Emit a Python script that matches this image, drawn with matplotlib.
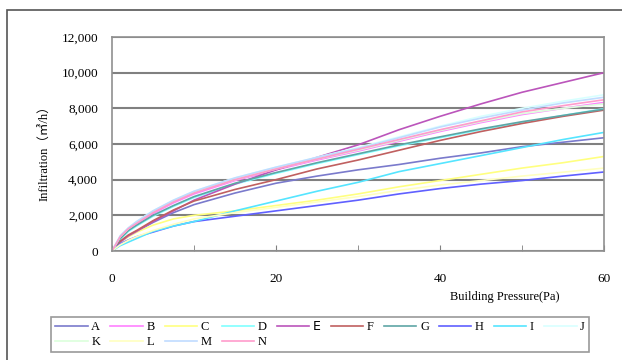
import matplotlib.pyplot as plt
from matplotlib.patches import Rectangle
from matplotlib.ticker import FuncFormatter

# building pressure (Pa) at which values were read
pressure = [0, 1, 2, 3, 5, 7.5, 10, 15, 20, 25, 30, 35, 40, 45, 50, 55, 60]

# infiltration (m3/h) per case
A = [0, 500, 850, 1100, 1600, 2150, 2600, 3250, 3800, 4200, 4550, 4850, 5200, 5500, 5850, 6100, 6350]
B = [0, 750, 1200, 1500, 2100, 2700, 3200, 3950, 4550, 5100, 5600, 6150, 6700, 7200, 7650, 8000, 8330]
C = [0, 500, 800, 1050, 1450, 1800, 2000, 2250, 2550, 2850, 3200, 3600, 3950, 4300, 4650, 4950, 5300]
D = [0, 650, 1100, 1400, 1950, 2500, 3000, 3750, 4350, 4900, 5400, 5900, 6350, 6800, 7200, 7600, 7980]
E = [0, 500, 850, 1100, 1650, 2250, 2850, 3750, 4550, 5250, 5950, 6800, 7550, 8250, 8900, 9450, 10000]
F = [0, 550, 900, 1150, 1700, 2300, 2800, 3450, 4000, 4600, 5100, 5650, 6200, 6700, 7150, 7550, 7900]
G = [0, 700, 1150, 1450, 2000, 2550, 3050, 3800, 4400, 4950, 5450, 5950, 6400, 6850, 7250, 7600, 7950]
H = [0, 400, 620, 800, 1060, 1400, 1650, 1950, 2250, 2550, 2850, 3200, 3500, 3750, 3950, 4200, 4430]
I = [0, 300, 500, 700, 1100, 1400, 1650, 2250, 2800, 3350, 3850, 4450, 4900, 5350, 5800, 6250, 6650]
J = [0, 850, 1300, 1650, 2250, 2850, 3350, 4100, 4700, 5250, 5800, 6400, 7000, 7550, 8000, 8400, 8760]
K = [0, 800, 1250, 1600, 2200, 2800, 3300, 4000, 4600, 5150, 5650, 6200, 6750, 7250, 7700, 8000, 8250]
L = [0, 350, 600, 800, 1150, 1500, 1800, 2150, 2450, 2750, 3050, 3400, 3700, 3950, 4200, 4420, 4650]
M = [0, 850, 1300, 1650, 2250, 2850, 3350, 4100, 4700, 5250, 5750, 6350, 6950, 7450, 7900, 8300, 8620]
N = [0, 800, 1250, 1550, 2150, 2750, 3250, 4000, 4600, 5150, 5700, 6250, 6800, 7300, 7800, 8150, 8480]

names = ['A', 'B', 'C', 'D', 'E', 'F', 'G', 'H', 'I', 'J', 'K', 'L', 'M', 'N']
series = [A, B, C, D, E, F, G, H, I, J, K, L, M, N]
colors = ['#7a7acc', '#ff80ff', '#ffff80', '#80ffff', '#bb55bb', '#c06060', '#5fa5a5',
          '#6060ff', '#55e5ff', '#d8ffff', '#dcffdc', '#ffffc0', '#c0dcff', '#ff9ccc']

serif = ['Liberation Serif', 'Noto Sans CJK JP']

fig = plt.figure(figsize=(6.22, 3.6), dpi=100)
fig.patches.append(Rectangle((7 / 622, -0.1), 1.2, 1 - 10 / 360 + 0.1, transform=fig.transFigure,
                             fill=False, edgecolor='#555555', linewidth=1.2))

ax = fig.add_axes([112 / 622, 1 - 251 / 360, 492 / 622, 214 / 360])
lines = []
for name, vals, c in zip(names, series, colors):
    ln, = ax.plot(pressure, vals, color=c, linewidth=1.2, label=name)
    lines.append(ln)

ax.set_xlim(0, 60)
ax.set_ylim(0, 12000)
ax.set_xticks([0, 20, 40, 60])
ax.set_xticks([10, 30, 50], minor=True)
ax.set_yticks(range(0, 12001, 2000))
ax.yaxis.set_major_formatter(FuncFormatter(lambda v, p: f'{int(v):,}'))
ax.grid(axis='y', color='#808080', linewidth=1.5)
ax.set_axisbelow(True)
ax.tick_params(axis='x', which='both', direction='in', length=4, color='#808080', pad=16)
ax.tick_params(axis='y', length=0, pad=10)
for lab in ax.get_xticklabels() + ax.get_yticklabels():
    lab.set_fontfamily(serif)
    lab.set_fontsize(9.5)
for s in ax.spines.values():
    s.set_color('#909090')
    s.set_linewidth(1.2)

fig.text(505 / 622, 1 - 297 / 360, 'Building Pressure(Pa)', ha='center', va='center',
         family=serif, fontsize=9)
fig.text(45 / 622, 1 - 150 / 360, 'Infiltration（㎥/h）', ha='center', va='center',
         rotation=90, family=serif, fontsize=9)

# legend fills column by column, so interleave to get rows A..J and K..N
order = [0, 10, 1, 11, 2, 12, 3, 13, 4, 5, 6, 7, 8, 9]
leg = fig.legend([lines[i] for i in order], [names[i] for i in order],
                 loc='lower left', bbox_to_anchor=(45 / 622, 2 / 360, 550 / 622, 44 / 360),
                 mode='expand', ncol=10, prop={'family': serif, 'size': 9},
                 handlelength=2.6, handletextpad=0.3, borderpad=0.3, labelspacing=0.2,
                 frameon=True, fancybox=False, edgecolor='#808080')
leg.get_frame().set_linewidth(1.2)
for t in leg.get_texts():
    if t.get_text() == 'E':
        t.set_fontfamily('DejaVu Sans')

fig.savefig('out.png', dpi=100)
